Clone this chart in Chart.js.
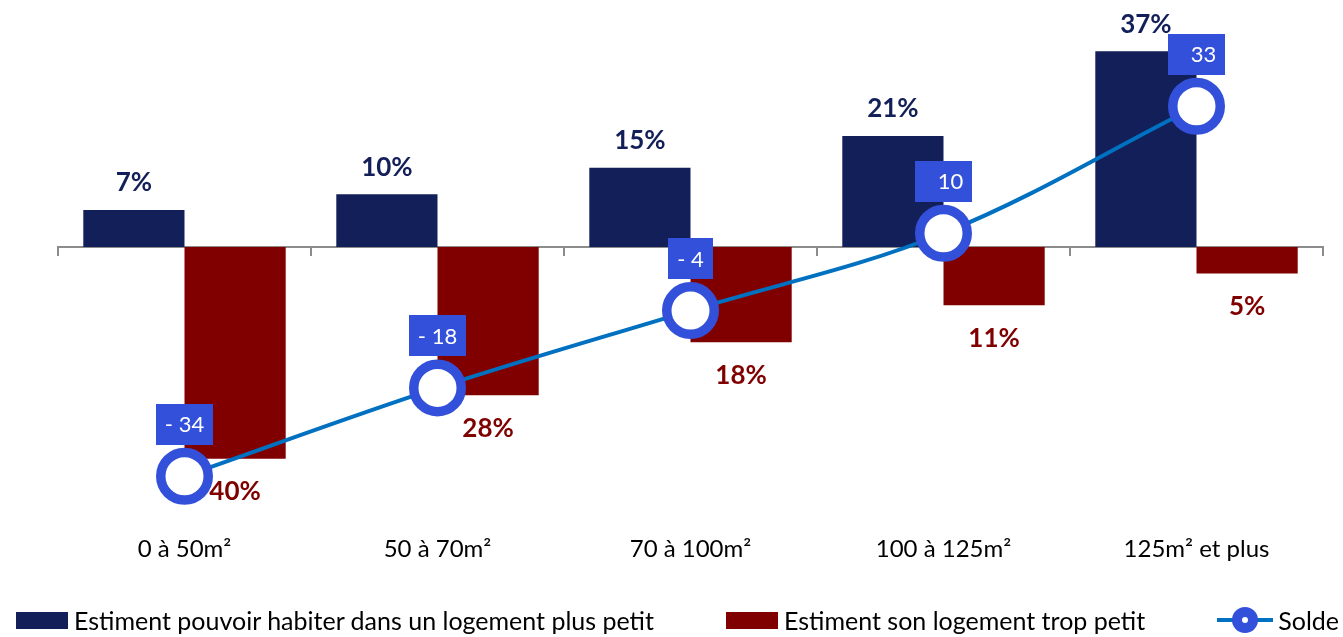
<!DOCTYPE html>
<html>
<head>
<meta charset="utf-8">
<script src="https://cdn.jsdelivr.net/npm/chart.js@4.4.0/dist/chart.umd.min.js"></script>
<style>
  html, body { margin: 0; padding: 0; background: #fff; }
  #wrap { position: relative; width: 1343px; height: 637px; overflow: hidden; }
  #c { position: absolute; left: 0; top: 0; }
  #legend { position: absolute; left: 6px; top: 605px; width: 1343px; display: flex; justify-content: center; gap: 72px;
            font: 25px Lato, "Open Sans", sans-serif; color: #000; line-height: 30px; white-space: nowrap; }
  .item { display: flex; align-items: center; }
  .sw { width: 52px; height: 17px; margin-right: 6px; }
  .solde { position: relative; width: 56px; height: 28px; margin-right: 5px; }
  .solde .ln { position: absolute; left: 0; top: 12px; width: 56px; height: 4px; background: #0070C0; }
  .solde .dot { position: absolute; left: 15px; top: 1px; width: 26px; height: 26px; border-radius: 50%; background: #3350DA; }
  .solde .in { position: absolute; left: 25px; top: 11px; width: 6px; height: 6px; border-radius: 50%; background: #fff; }
</style>
</head>
<body>
<div id="wrap">
  <canvas id="c" width="1343" height="637"></canvas>
  <div id="legend"></div>
</div>
<script>
// ---- data ----
const categories = ['0 à 50m²', '50 à 70m²', '70 à 100m²', '100 à 125m²', '125m² et plus'];
const plusPetit = [7, 10, 15, 21, 37];      // Estiment pouvoir habiter dans un logement plus petit (%)
const tropPetit = [40, 28, 18, 11, 5];      // Estiment son logement trop petit (%), drawn downward
const solde = [-34, -18, -4, 10, 33];       // Solde
const seriesNames = ['Estiment pouvoir habiter dans un logement plus petit', 'Estiment son logement trop petit', 'Solde'];

// ---- styles ----
const NAVY = '#131F59', RED = '#800000', LINE = '#0070C0', MARK = '#3350DA', AXIS = '#8C8C8C';
const FONT = 'Lato, "Open Sans", sans-serif';

const labelPlugin = {
  id: 'valueLabels',
  afterDatasetsDraw(chart) {
    const ctx = chart.ctx;
    ctx.save();
    ctx.textAlign = 'center';
    ctx.textBaseline = 'middle';
    ctx.font = 'bold 26px ' + FONT;
    chart.getDatasetMeta(0).data.forEach((el, i) => {
      ctx.fillStyle = NAVY;
      ctx.fillText(plusPetit[i] + '%', el.x, el.y - 27);
    });
    chart.getDatasetMeta(1).data.forEach((el, i) => {
      ctx.fillStyle = RED;
      ctx.fillText(tropPetit[i] + '%', el.x, el.y + 33);
    });
    ctx.font = '22px ' + FONT;
    chart.getDatasetMeta(2).data.forEach((el, i) => {
      const v = solde[i];
      const full = '- ' + Math.abs(v);
      const txt = v < 0 ? full : String(v);
      const w = ctx.measureText(full).width + 18, h = 41;
      const cx = el.x, cy = el.y - 52;
      ctx.fillStyle = MARK;
      ctx.fillRect(Math.round(cx - w / 2), Math.round(cy - h / 2), Math.round(w), h);
      ctx.fillStyle = '#fff';
      ctx.textAlign = 'right';
      ctx.fillText(txt, cx + w / 2 - 9, cy + 1);
    });
    ctx.restore();
  }
};

new Chart(document.getElementById('c'), {
  data: {
    labels: categories,
    datasets: [
      { type: 'bar', label: seriesNames[0], data: plusPetit, backgroundColor: NAVY, yAxisID: 'y', order: 2,
        barPercentage: 1, categoryPercentage: 0.8 },
      { type: 'bar', label: seriesNames[1], data: tropPetit.map(v => -v), backgroundColor: RED, yAxisID: 'y', order: 2,
        barPercentage: 1, categoryPercentage: 0.8 },
      { type: 'line', label: seriesNames[2], data: solde, yAxisID: 'y2', order: 0,
        borderColor: LINE, borderWidth: 4, tension: 0.35, fill: false, clip: false,
        pointRadius: 23.75, pointHoverRadius: 23.75, pointBorderWidth: 9.5,
        pointBackgroundColor: '#fff', pointBorderColor: MARK }
    ]
  },
  options: {
    responsive: false,
    animation: false,
    layout: { autoPadding: false, padding: { left: 58, right: 20, top: 10, bottom: 58 } },
    plugins: { legend: { display: false }, tooltip: { enabled: false } },
    scales: {
      x: {
        position: 'bottom', offset: true,
        grid: { display: false, drawTicks: false },
        border: { display: false },
        ticks: { color: '#000', padding: 15, font: { family: FONT, size: 24 }, maxRotation: 0, autoSkip: false }
      },
      x2: {
        type: 'category', labels: categories, position: { y: 0 }, offset: true, z: 1,
        grid: { display: true, drawOnChartArea: false, drawTicks: true, tickLength: 8, color: AXIS, lineWidth: 2, offset: true },
        border: { display: true, color: AXIS, width: 2 },
        ticks: { display: false }
      },
      y: { display: false, min: -51.6, max: 44.8 },
      y2: { display: false, min: -41.96, max: 50.43 }
    }
  },
  plugins: [labelPlugin]
});

// ---- legend (real text) ----
const legend = document.getElementById('legend');
[[seriesNames[0], NAVY, 'box'], [seriesNames[1], RED, 'box'], [seriesNames[2], LINE, 'line']].forEach(([name, color, kind]) => {
  const item = document.createElement('div');
  item.className = 'item';
  if (kind === 'box') {
    const sw = document.createElement('span');
    sw.className = 'sw';
    sw.style.background = color;
    item.appendChild(sw);
  } else {
    const s = document.createElement('span');
    s.className = 'solde';
    s.innerHTML = '<span class="ln"></span><span class="dot"></span><span class="in"></span>';
    item.appendChild(s);
  }
  const t = document.createElement('span');
  t.textContent = name;
  item.appendChild(t);
  legend.appendChild(item);
});
</script>
</body>
</html>
